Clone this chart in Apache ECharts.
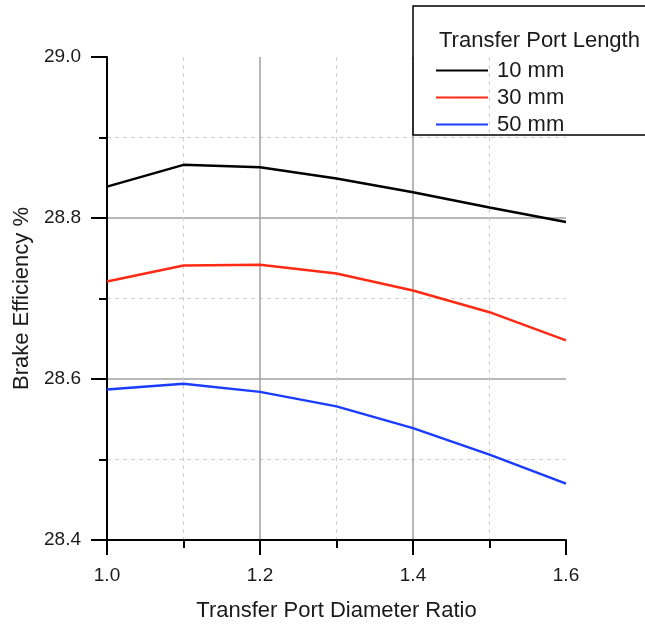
<!DOCTYPE html>
<html>
<head>
<meta charset="utf-8">
<script src="https://cdn.jsdelivr.net/npm/echarts@6/dist/echarts.min.js"></script>
<style>
html,body{margin:0;padding:0;background:#fff;}
#chart{width:645px;height:624px;}
</style>
</head>
<body>
<div id="chart"></div>
<script>
var ratios = [1.0, 1.1, 1.2, 1.3, 1.4, 1.5, 1.6];
var len10 = [28.839, 28.866, 28.863, 28.849, 28.832, 28.813, 28.795];
var len30 = [28.721, 28.741, 28.742, 28.731, 28.710, 28.683, 28.648];
var len50 = [28.587, 28.594, 28.584, 28.566, 28.539, 28.506, 28.470];
var seriesNames = ['10 mm', '30 mm', '50 mm'];
var seriesColors = ['#000000', '#ff2a14', '#1a3cff'];
var legendTitle = 'Transfer Port Length';
var xTitle = 'Transfer Port Diameter Ratio';
var yTitle = 'Brake Efficiency %';

function pairs(xs, ys) { return xs.map(function (x, i) { return [x, ys[i]]; }); }
var allData = [len10, len30, len50];
var font = 'Liberation Sans, Arial, sans-serif';

var chart = echarts.init(document.getElementById('chart'));
var axisCommon = {
  type: 'value',
  interval: 0.2,
  axisLine: { show: true, lineStyle: { color: '#000', width: 2 } },
  axisTick: { show: true, inside: false, length: 15, lineStyle: { color: '#000', width: 2 } },
  minorTick: { show: true, splitNumber: 2, length: 8, lineStyle: { color: '#000', width: 2 } },
  splitLine: { show: true, showMinLine: false, showMaxLine: false, lineStyle: { color: '#a0a0a0', width: 1.5 } },
  minorSplitLine: { show: true, lineStyle: { color: '#cfcfcf', width: 1, type: [4, 4] } },
  axisLabel: { color: '#1a1a1a', fontSize: 19, fontFamily: font, margin: 26, formatter: function (v) { return v.toFixed(1); } },
  nameTextStyle: { color: '#1a1a1a', fontSize: 22, fontFamily: font }
};
var option = {
  animation: false,
  backgroundColor: '#fff',
  grid: { left: 107, right: 79, top: 57, bottom: 84, containLabel: false, outerBoundsMode: 'none' },
  xAxis: Object.assign({}, axisCommon, {
    min: 1.0, max: 1.6,
    axisLabel: Object.assign({}, axisCommon.axisLabel, { margin: 26 }),
    name: xTitle, nameLocation: 'middle', nameGap: 60
  }),
  yAxis: Object.assign({}, axisCommon, {
    min: 28.4, max: 29.0,
    axisTick: { show: true, inside: false, length: 16, lineStyle: { color: '#000', width: 2 } },
    name: yTitle, nameLocation: 'middle', nameGap: 66
  }),
  legend: {
    orient: 'vertical',
    left: 436, top: 57,
    padding: 0,
    itemGap: 0,
    itemWidth: 52,
    itemHeight: 14,
    icon: 'path://M0,6 L52,6 L52,8 L0,8 Z',
    textStyle: { color: '#1a1a1a', fontSize: 22, fontFamily: font, lineHeight: 27, padding: [0, 0, 0, 4] },
    data: seriesNames
  },
  graphic: [
    { type: 'rect', shape: { x: 413, y: 6, width: 260, height: 129 }, style: { fill: 'none', stroke: '#000', lineWidth: 1.5 }, z: 100 },
    { type: 'text', x: 439, y: 41, style: { text: legendTitle, fill: '#1a1a1a', font: '22px ' + font, textVerticalAlign: 'middle' }, z: 100 }
  ],
  series: seriesNames.map(function (n, i) {
    return {
      name: n, type: 'line', data: pairs(ratios, allData[i]),
      symbol: 'none', color: seriesColors[i],
      lineStyle: { color: seriesColors[i], width: 2.5 }, z: 10
    };
  })
};
chart.setOption(option);
</script>
</body>
</html>
